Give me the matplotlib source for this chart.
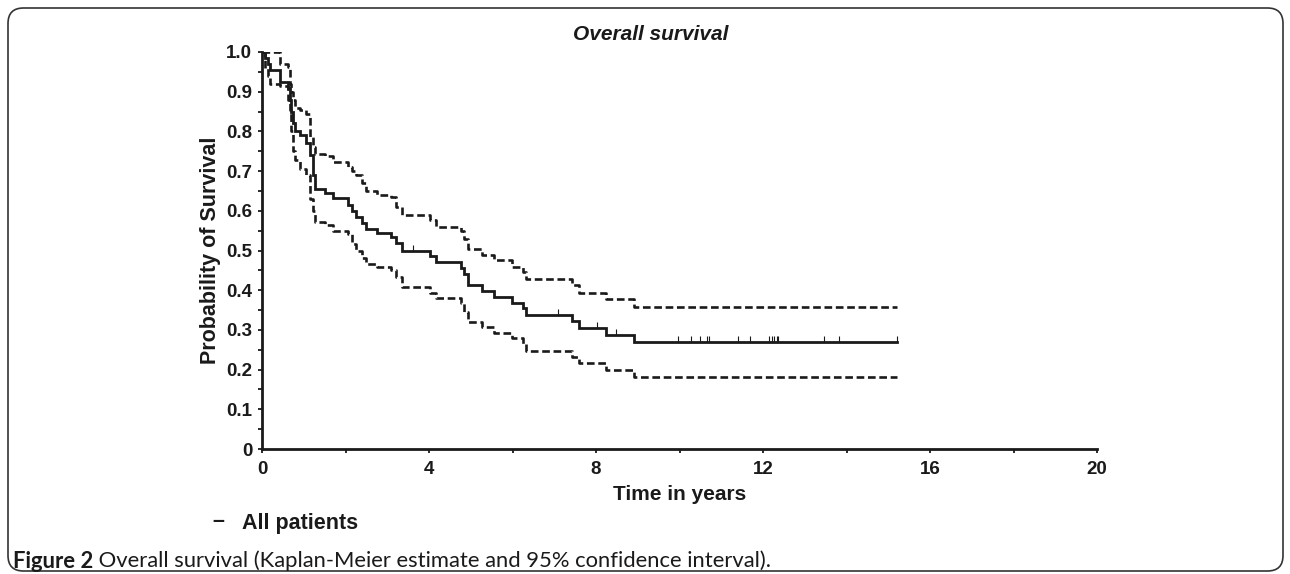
import numpy as np
import matplotlib
matplotlib.use("Agg")
import matplotlib.pyplot as plt
from matplotlib import font_manager
from matplotlib.patches import FancyBboxPatch

# ---------------- data ----------------
event_times = [0.0, 0.08, 0.15, 0.20, 0.42, 0.62, 0.66, 0.70, 0.75, 0.78, 0.90, 1.05,
               1.15, 1.22, 1.26, 1.50, 1.70, 2.05, 2.15, 2.25, 2.40, 2.50, 2.75, 3.10,
               3.22, 3.35, 4.02, 4.17, 4.77, 4.85, 4.94, 5.26, 5.56, 5.98, 6.26, 6.32,
               7.42, 7.60, 8.23, 8.90]
km_surv = [1.000, 0.985, 0.970, 0.955, 0.925, 0.910, 0.880, 0.850, 0.820, 0.800, 0.790, 0.770,
           0.740, 0.690, 0.655, 0.645, 0.632, 0.615, 0.600, 0.585, 0.570, 0.555, 0.545, 0.535,
           0.520, 0.500, 0.485, 0.470, 0.455, 0.440, 0.413, 0.399, 0.384, 0.368, 0.354, 0.338,
           0.322, 0.305, 0.287, 0.270]
ci_upper = [1.000, 1.000, 1.000, 1.000, 0.970, 0.962, 0.920, 0.900, 0.878, 0.860, 0.853, 0.845,
            0.786, 0.760, 0.744, 0.737, 0.723, 0.710, 0.700, 0.690, 0.670, 0.650, 0.640, 0.636,
            0.610, 0.590, 0.577, 0.560, 0.550, 0.530, 0.503, 0.488, 0.476, 0.459, 0.445, 0.427,
            0.413, 0.394, 0.377, 0.358]
ci_lower = [1.000, 0.960, 0.940, 0.920, 0.915, 0.880, 0.853, 0.800, 0.750, 0.727, 0.706, 0.690,
            0.630, 0.600, 0.572, 0.563, 0.550, 0.542, 0.517, 0.500, 0.480, 0.467, 0.458, 0.450,
            0.433, 0.408, 0.394, 0.380, 0.368, 0.345, 0.321, 0.308, 0.291, 0.279, 0.265, 0.247,
            0.232, 0.216, 0.199, 0.182]
follow_up_end = 15.2
censor_times = [3.62, 7.09, 8.03, 8.48, 9.97, 10.27, 10.49, 10.67, 10.71, 11.41, 11.69,
                12.14, 12.21, 12.26, 12.33, 12.37, 13.45, 13.81, 15.2]

x_ticks = [0, 4, 8, 12, 16, 20]
x_minor_ticks = [2, 6, 10, 14, 18]
y_ticks = [0, 0.1, 0.2, 0.3, 0.4, 0.5, 0.6, 0.7, 0.8, 0.9, 1.0]
y_tick_labels = ["0", "0.1", "0.2", "0.3", "0.4", "0.5", "0.6", "0.7", "0.8", "0.9", "1.0"]

title_text = "Overall survival"
xlabel_text = "Time in years"
ylabel_text = "Probability of Survival"
legend_text = "All patients"
caption_bold = "Figure 2"
caption_rest = " Overall survival (Kaplan-Meier estimate and 95% confidence interval)."

# ---------------- fonts ----------------
available = {f.name for f in font_manager.fontManager.ttflist}
narrow = "Liberation Sans Narrow" if "Liberation Sans Narrow" in available else "Liberation Sans"
wide = "Liberation Sans"
cap_font = "Lato" if "Lato" in available else "DejaVu Sans"

W, H = 1290, 574
fig = plt.figure(figsize=(W / 100, H / 100), dpi=100)

def px(x, y):
    return x / W, 1 - y / H

# rounded frame
frame = FancyBboxPatch(px(8, 571), (1283 - 8) / W, (571 - 8) / H,
                       boxstyle="round,pad=0,rounding_size=0.012",
                       transform=fig.transFigure, fill=False,
                       edgecolor="#333333", linewidth=1.2, mutation_aspect=W / H)
fig.patches.append(frame)

left, right, top, bottom = 262, 1097, 52, 449
ax = fig.add_axes([left / W, 1 - bottom / H, (right - left) / W, (bottom - top) / H])

t = np.array(event_times + [follow_up_end])
km = np.array(km_surv + [km_surv[-1]])
up = np.array(ci_upper + [ci_upper[-1]])
lo = np.array(ci_lower + [ci_lower[-1]])

ink = "#1a1a1a"
ax.step(t, km, where="post", color=ink, lw=2.0, solid_joinstyle="miter")
ax.step(t, up, where="post", color=ink, lw=1.9, dashes=(2.9, 1.4))
ax.step(t, lo, where="post", color=ink, lw=1.9, dashes=(2.9, 1.4))

ct = np.array(censor_times)
idx = np.searchsorted(np.array(event_times), ct, side="right") - 1
cy = np.array(km_surv)[idx]
ax.plot(ct, cy, linestyle="none", marker=2, markersize=4, markeredgewidth=0.8, color=ink)

ax.set_xlim(0, 20)
ax.set_ylim(0, 1.0)
for s in ["top", "right"]:
    ax.spines[s].set_visible(False)
for s in ["left", "bottom"]:
    ax.spines[s].set_linewidth(2.0)
    ax.spines[s].set_color(ink)
ax.patch.set_alpha(0)

ax.set_xticks(x_ticks)
ax.set_xticks(x_minor_ticks, minor=True)
ax.set_yticks(y_ticks)
ax.set_yticklabels(y_tick_labels)
ax.set_yticks(np.arange(0.05, 1.0, 0.1), minor=True)
ax.tick_params(axis="both", which="both", direction="out", length=3, width=1.3, color=ink,
               labelsize=13.5, labelcolor=ink)
ax.tick_params(axis="x", which="major", pad=6)
ax.tick_params(axis="y", which="major", pad=4)
for lab in ax.get_xticklabels() + ax.get_yticklabels():
    lab.set_fontfamily(narrow)
    lab.set_fontweight("bold")

# axis labels placed in figure pixels
fig.text(*px(680, 495), xlabel_text, ha="center", va="center", fontsize=15,
         fontweight="bold", family=narrow, color=ink)
fig.text(*px(210, 250), ylabel_text, ha="center", va="center", rotation=90, fontsize=15.5,
         fontweight="bold", family=wide, color=ink)

fig.text(*px(651, 35), title_text, ha="center", va="center", fontsize=15,
         fontweight="bold", fontstyle="italic", family=wide, color=ink)

# legend
fig.text(*px(218, 522), "\u2013", ha="center", va="center", fontsize=15.5, fontweight="bold",
         family=wide, color=ink)
fig.text(*px(242, 523), legend_text, ha="left", va="center", fontsize=15.5, fontweight="bold",
         family=narrow, color=ink)

# caption, sized to span the same width as the original
renderer = fig.canvas.get_renderer()
cap_y = 561
cap_x0, cap_x1 = 13, 768
size = 12.0
cb = fig.text(*px(cap_x0, cap_y), caption_bold, ha="left", va="center", fontsize=size,
              fontweight="bold", family=cap_font, color=ink)
cr = fig.text(*px(cap_x0, cap_y), caption_rest, ha="left", va="center", fontsize=size,
              family=cap_font, color=ink)
w_total = cb.get_window_extent(renderer).width + cr.get_window_extent(renderer).width
size = size * (cap_x1 - cap_x0) / w_total
cb.set_fontsize(size)
cr.set_fontsize(size)
bb = cb.get_window_extent(renderer)
cr.set_position((bb.x1 / W, 1 - cap_y / H))

fig.savefig("out.png", dpi=100, facecolor="white")
